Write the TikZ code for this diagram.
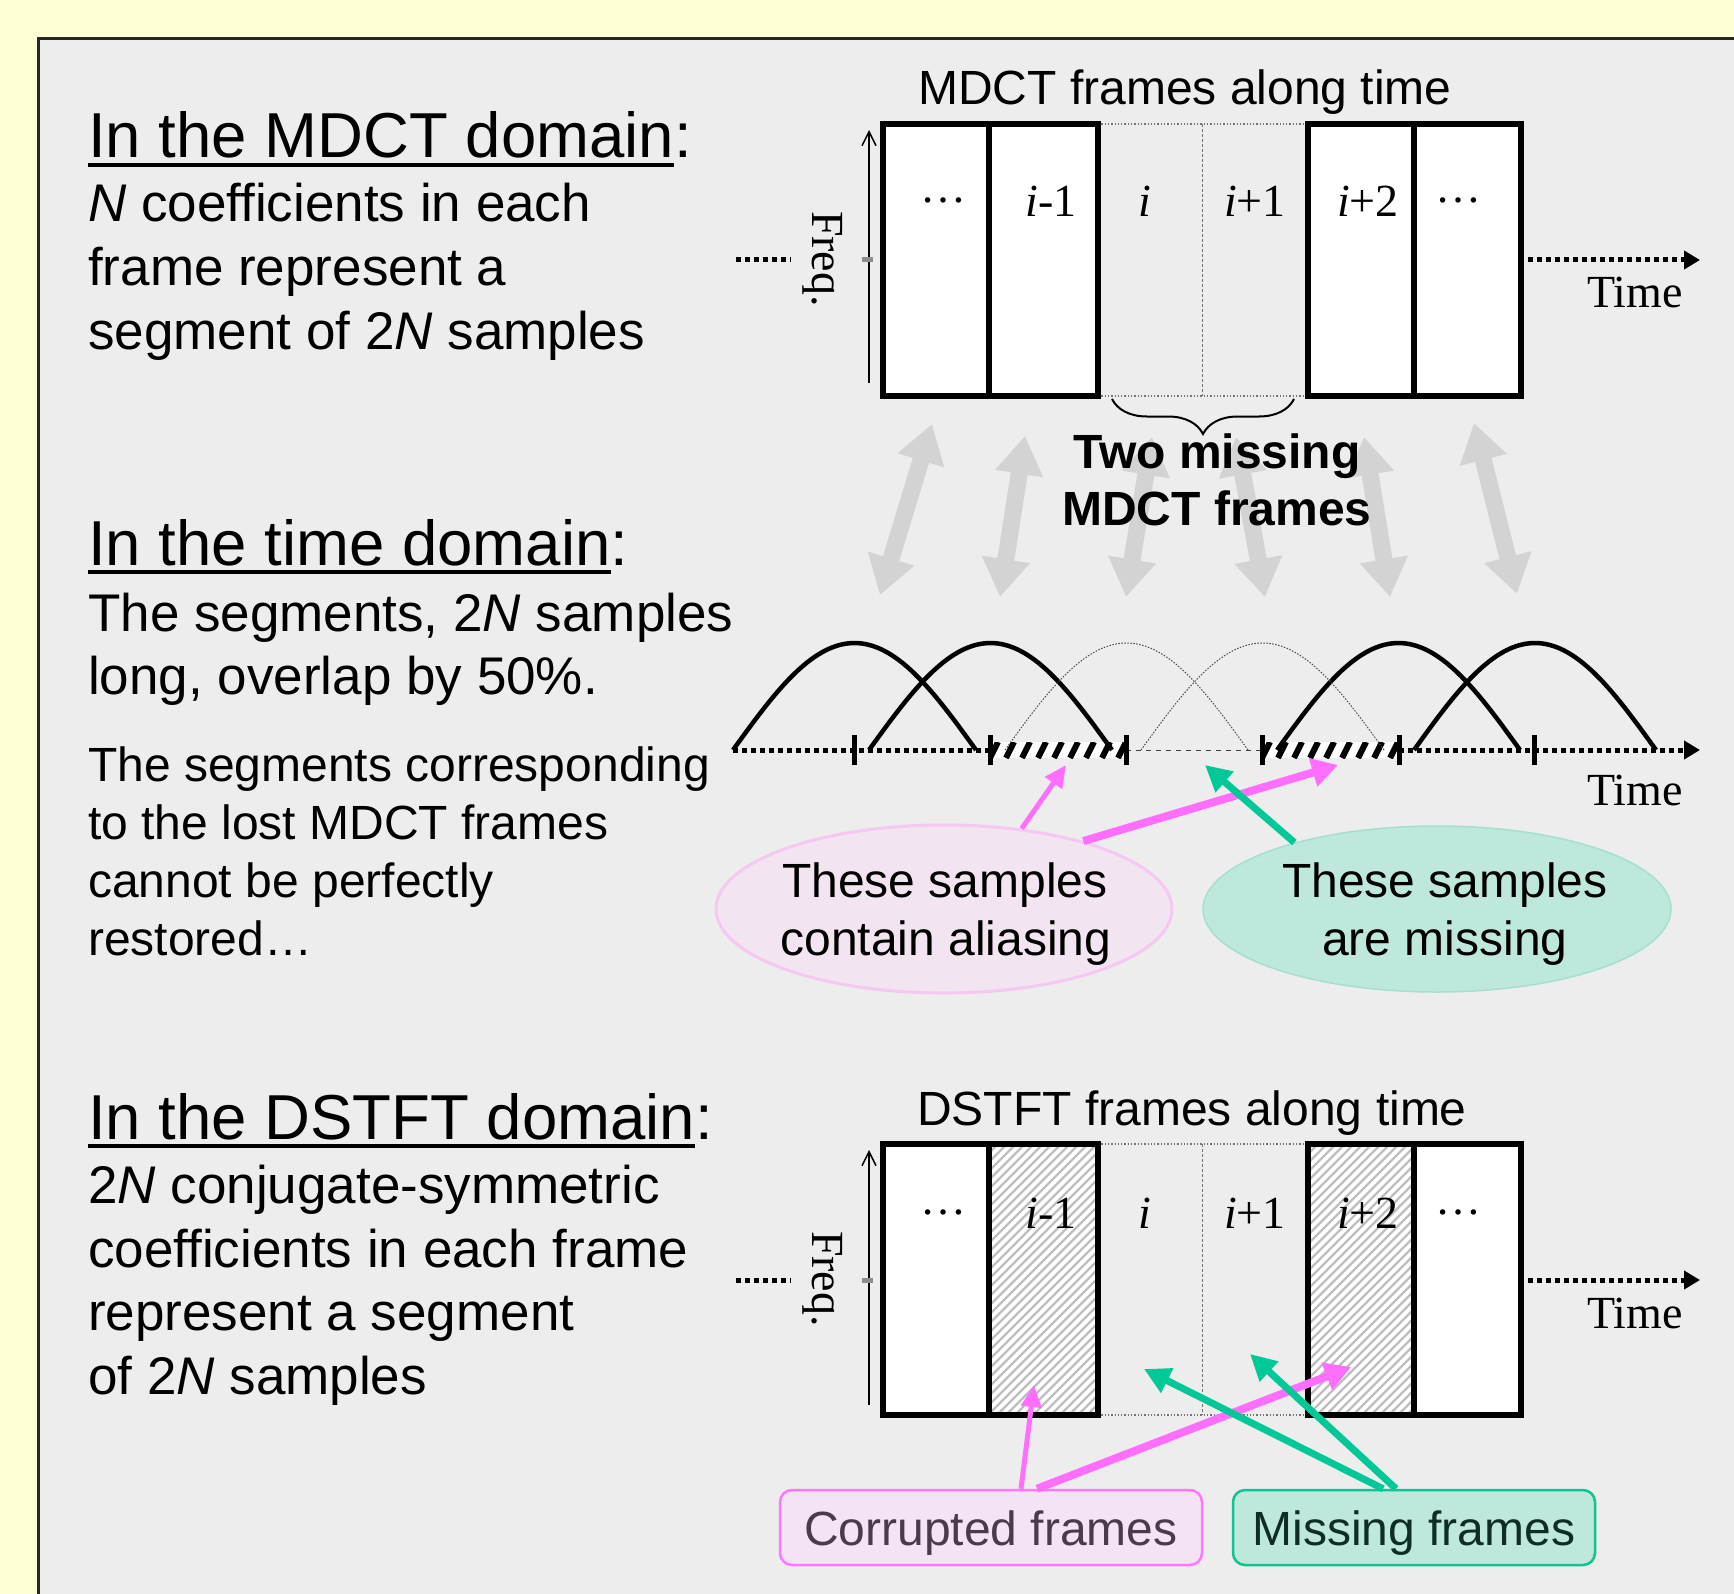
\documentclass[tikz,border=0pt]{standalone}
\usepackage{fontspec}
\setmainfont{Liberation Sans}
\newfontfamily\serifface{Liberation Serif}
\usetikzlibrary{arrows.meta,decorations.pathreplacing,calc,shapes.geometric}

\definecolor{bgyellow}{HTML}{FFFFD5}
\definecolor{panelgray}{HTML}{EDEDED}
\definecolor{pinkarrow}{HTML}{FF6EFF}
\definecolor{greenarrow}{HTML}{00C896}
\definecolor{mapgray}{HTML}{D3D3D3}
\definecolor{pinkfill}{HTML}{F2E4F0}
\definecolor{pinkedge}{HTML}{F4C8F0}
\definecolor{greenfill}{HTML}{BEE8DC}
\definecolor{greenedge}{HTML}{A6DFCF}
\definecolor{corrfill}{HTML}{F4E3F3}
\definecolor{corredge}{HTML}{FF77FF}
\definecolor{corrtext}{HTML}{4A3B4A}
\definecolor{missedge}{HTML}{10C392}
\definecolor{misstext}{HTML}{0E2E25}
\definecolor{hatchgray}{HTML}{BEBEBE}

\newcommand{\framedots}{\raisebox{14pt}{…}}

\tikzset{
  headtext/.style={anchor=base west, inner sep=0pt, font=\fontsize{63.5}{70}\selectfont},
  bodytext/.style={anchor=base west, inner sep=0pt, font=\fontsize{53}{60}\selectfont},
  smalltext/.style={anchor=base west, inner sep=0pt, font=\fontsize{48}{56}\selectfont},
  captext/.style={anchor=base, inner sep=0pt, font=\fontsize{48}{56}\selectfont},
  boldcap/.style={anchor=base, inner sep=0pt, font=\bfseries\fontsize{48}{56}\selectfont},
  seriflabel/.style={anchor=base, inner sep=0pt, font=\serifface\fontsize{46}{50}\selectfont},
  framebox/.style={draw=black, line width=5.5pt},
  missingedge/.style={draw=black!55, line width=1.3pt, dotted},
  missingmid/.style={draw=black!55, line width=1pt, dash pattern=on 3pt off 2pt},
  thickdots/.style={line width=5pt, dash pattern=on 5pt off 4pt},
  freqarrow/.style={line width=1.5pt, -{Straight Barb[length=14pt,width=14pt]}},
  axistip/.style={-{Triangle[length=16pt,width=18pt]}},
  maparrow/.style={draw=mapgray, line width=17pt,
    {Triangle[length=38pt,width=46pt]}-{Triangle[length=38pt,width=46pt]}},
  pinkthin/.style={draw=pinkarrow, line width=5pt, -{Triangle[length=22pt,width=20pt]}},
  pinkthick/.style={draw=pinkarrow, line width=8pt, -{Triangle[length=26pt,width=28pt]}},
  greenlink/.style={draw=greenarrow, line width=7pt, -{Triangle[length=26pt,width=26pt]}},
  solidarch/.style={line width=4.5pt},
  faintarch/.style={line width=1pt, draw=black!70, dash pattern=on 1.5pt off 1.5pt},
  tickmark/.style={line width=5pt},
  legendbox/.style={rectangle, rounded corners=12pt, minimum height=75pt, line width=2.5pt, inner sep=0pt},
}

\begin{document}
\begin{tikzpicture}[x=1pt, y=-1pt]
\useasboundingbox (0,0) rectangle (1734,1594);
\clip (0,0) rectangle (1734,1594);
\fill[bgyellow] (0,0) rectangle (1734,1594);
\draw[fill=panelgray, draw=black!85, line width=3pt] (38,39) rectangle (1800,1680);

% ---------- left column: explanations ----------
\node[headtext] (h1) at (88,158) {In the MDCT domain};
\node[headtext] (h1c) at (h1.base east) {:};
\draw[line width=3.5pt] ($(h1.base west)+(0,7)$) -- ($(h1.base east)+(0,7)$);
\node[bodytext] (b1a) at (88,222) {\textit{N} coefficients in each};
\node[bodytext] (b1b) at (88,286) {frame represent a};
\node[bodytext] (b1c) at (88,349) {segment of 2\textit{N} samples};

\node[headtext] (h2) at (88,565) {In the time domain};
\node[headtext] (h2c) at (h2.base east) {:};
\draw[line width=3.5pt] ($(h2.base west)+(0,7)$) -- ($(h2.base east)+(0,7)$);
\node[bodytext] (b2a) at (88,631) {The segments, 2\textit{N} samples};
\node[bodytext] (b2b) at (88,694) {long, overlap by 50\%.};
\node[smalltext] (b2c) at (88,781) {The segments corresponding};
\node[smalltext] (b2d) at (88,839) {to the lost MDCT frames};
\node[smalltext] (b2e) at (88,897) {cannot be perfectly};
\node[smalltext] (b2f) at (88,955) {restored…};

\node[headtext] (h3) at (88,1139) {In the DSTFT domain};
\node[headtext] (h3c) at (h3.base east) {:};
\draw[line width=3.5pt] ($(h3.base west)+(0,7)$) -- ($(h3.base east)+(0,7)$);
\node[bodytext] (b3a) at (88,1203) {2\textit{N} conjugate-symmetric};
\node[bodytext] (b3b) at (88,1267) {coefficients in each frame};
\node[bodytext] (b3c) at (88,1330) {represent a segment};
\node[bodytext] (b3d) at (88,1394) {of 2\textit{N} samples};

% ---------- MDCT frames ----------
\node[captext] (mtitle) at (1185,105) {MDCT frames along time};
\draw[missingedge] (1098,124) -- (1308,124);
\draw[missingedge] (1098,396) -- (1308,396);
\draw[missingmid] (1202,124) -- (1202,396);
\draw[framebox, fill=white] (883,124) rectangle (1098,396);
\draw[framebox] (989,124) -- (989,396);
\draw[framebox, fill=white] (1308,124) rectangle (1521,396);
\draw[framebox] (1414,124) -- (1414,396);
\node[seriflabel] (m1) at (943,217) {\framedots};
\node[seriflabel] (m2) at (1051,217) {\textit{i}-1};
\node[seriflabel] (m3) at (1145,217) {\textit{i}};
\node[seriflabel] (m4) at (1255,217) {\textit{i}+1};
\node[seriflabel] (m5) at (1368,217) {\textit{i}+2};
\node[seriflabel] (m6) at (1458,217) {\framedots};
\coordinate (mfb) at (869,383);
\coordinate (mft) at (869,130);
\draw[freqarrow] (mfb) -- (mft);
\node[seriflabel, anchor=center, rotate=-90] (mfreq) at (823,259) {Freq.};
\coordinate (mtl0) at (736,260);
\coordinate (mtl1) at (791,260);
\coordinate (mtr0) at (1528,260);
\coordinate (mtr1) at (1700,260);
\draw[thickdots] (mtl0) -- (mtl1);
\draw[line width=5pt, black!45] (862,260) -- (873,260);
\draw[thickdots, axistip] (mtr0) -- (mtr1);
\node[seriflabel] (mtime) at (1635,308) {Time};

% brace under the two lost frames
\coordinate (brl) at (1112,399);
\coordinate (brr) at (1294,399);
\draw[line width=2pt, decorate, decoration={brace, amplitude=35pt, mirror}] (brl) -- (brr);

% ---------- correspondence arrows ----------
\coordinate (u1) at (932,424);  \coordinate (d1) at (880,595);
\coordinate (u2) at (1025,436); \coordinate (d2) at (1000,597);
\coordinate (u3) at (1152,437); \coordinate (d3) at (1126,597);
\coordinate (u4) at (1236,437); \coordinate (d4) at (1265,597);
\coordinate (u5) at (1364,437); \coordinate (d5) at (1390,597);
\coordinate (u6) at (1474,423); \coordinate (d6) at (1517,594);
\foreach \k in {1,...,6} \draw[maparrow] (u\k) -- (d\k);

\node[boldcap] (two1) at (1217,468) {Two missing};
\node[boldcap] (two2) at (1217,525) {MDCT frames};

% ---------- time-domain segments ----------
% hatched stretches of the time axis (aliased samples)
\begin{scope}
  \clip (990,742) rectangle (1126,758);
  \fill[white] (990,742) rectangle (1126,758);
  \foreach \x in {974,990,...,1134} \draw[line width=6pt] (\x,758) -- ++(8,-16);
\end{scope}
\begin{scope}
  \clip (1262,742) rectangle (1399,758);
  \fill[white] (1262,742) rectangle (1399,758);
  \foreach \x in {1246,1262,...,1406} \draw[line width=6pt] (\x,758) -- ++(8,-16);
\end{scope}
\coordinate (ta0) at (733,750);
\coordinate (ta1) at (990,750);
\coordinate (ta2) at (1126,750);
\coordinate (ta3) at (1262,750);
\coordinate (ta4) at (1399,750);
\coordinate (ta5) at (1700,750);
\draw[thickdots] (ta0) -- (ta1);
\draw[line width=1pt, black!75, dash pattern=on 5pt off 5pt] (ta2) -- (ta3);
\draw[thickdots, axistip] (ta4) -- (ta5);

% overlapping sine windows, 50% overlap
\foreach \a/\b in {733/976, 869/1112, 1277/1520, 1414/1656}
  \draw[solidarch] plot[domain=0:180, samples=60, smooth] ({\a+(\b-\a)*(\x/180)}, {750-107*sin(\x)});
\foreach \a/\b in {1005/1248, 1141/1384}
  \draw[faintarch] plot[domain=0:180, samples=60, smooth] ({\a+(\b-\a)*(\x/180)}, {750-107*sin(\x)});
\foreach \t in {854,990,1126,1262,1399,1534}
  \draw[tickmark] (\t,735) -- (\t,765);
\node[seriflabel] (ttime) at (1635,805) {Time};

% callouts
\node[ellipse, fill=pinkfill, draw=pinkedge, line width=3pt, minimum width=456pt, minimum height=168pt, inner sep=0pt] (pe) at (944,909) {};
\node[ellipse, fill=greenfill, draw=greenedge, line width=1.5pt, minimum width=468pt, minimum height=166pt, inner sep=0pt] (ge) at (1437,909) {};
\node[captext] (pe1) at (945,897) {These samples};
\node[captext] (pe2) at (946,955) {contain aliasing};
\node[captext] (ge1) at (1445,897) {These samples};
\node[captext] (ge2) at (1445,955) {are missing};
\coordinate (alA) at (1066,765);
\coordinate (alB) at (1338,765);
\coordinate (msA) at (1205,765);
\draw[pinkthin] (pe.46) -- (alA);
\draw[pinkthick] (pe.26) -- (alB);
\draw[greenlink] (ge.155) -- (msA);

% ---------- DSTFT frames ----------
\node[captext] (dtitle) at (1192,1125) {DSTFT frames along time};
\fill[white] (883,1144) rectangle (1098,1415);
\fill[white] (1308,1144) rectangle (1521,1415);
\draw[missingedge] (1098,1144) -- (1308,1144);
\draw[missingedge] (1098,1415) -- (1308,1415);
\draw[missingmid] (1202,1144) -- (1202,1415);
\begin{scope}
  \clip (989,1144) rectangle (1098,1415);
  \foreach \x in {700,709,...,1110} \draw[hatchgray, line width=2.3pt] (\x,1415) -- ++(271,-271);
\end{scope}
\begin{scope}
  \clip (1308,1144) rectangle (1414,1415);
  \foreach \x in {1020,1029,...,1420} \draw[hatchgray, line width=2.3pt] (\x,1415) -- ++(271,-271);
\end{scope}
\draw[framebox] (883,1144) rectangle (1098,1415);
\draw[framebox] (989,1144) -- (989,1415);
\draw[framebox] (1308,1144) rectangle (1521,1415);
\draw[framebox] (1414,1144) -- (1414,1415);
\node[seriflabel] (s1) at (943,1228) {\framedots};
\node[seriflabel] (s2) at (1051,1228) {\textit{i}-1};
\node[seriflabel] (s3) at (1145,1228) {\textit{i}};
\node[seriflabel] (s4) at (1255,1228) {\textit{i}+1};
\node[seriflabel] (s5) at (1368,1228) {\textit{i}+2};
\node[seriflabel] (s6) at (1458,1228) {\framedots};
\coordinate (sfb) at (869,1405);
\coordinate (sft) at (869,1150);
\draw[freqarrow] (sfb) -- (sft);
\node[seriflabel, anchor=center, rotate=-90] (sfreq) at (823,1279) {Freq.};
\coordinate (stl0) at (736,1280);
\coordinate (stl1) at (791,1280);
\coordinate (str0) at (1528,1280);
\coordinate (str1) at (1700,1280);
\draw[thickdots] (stl0) -- (stl1);
\draw[line width=5pt, black!45] (862,1280) -- (873,1280);
\draw[thickdots, axistip] (str0) -- (str1);
\node[seriflabel] (stime) at (1635,1328) {Time};

% legend boxes
\node[legendbox, minimum width=422pt, fill=corrfill, draw=corredge] (cf) at (991,1527.5) {};
\node[legendbox, minimum width=362pt, fill=greenfill, draw=missedge] (mf) at (1414,1527.5) {};
\node[captext, text=corrtext] (cft) at (991,1545) {Corrupted frames};
\node[captext, text=misstext] (mft) at (1414,1545) {Missing frames};
\coordinate (cA) at (1034,1385);
\coordinate (cB) at (1351,1367);
\coordinate (mA) at (1144,1369);
\coordinate (mB) at (1250,1354);
\draw[pinkthin] ($(cf.north)+(30,0)$) -- (cA);
\draw[pinkthick] ($(cf.north)+(46,0)$) -- (cB);
\draw[greenlink] ($(mf.north)+(-31,0)$) -- (mA);
\draw[greenlink] ($(mf.north)+(-18,0)$) -- (mB);
\end{tikzpicture}
\end{document}
